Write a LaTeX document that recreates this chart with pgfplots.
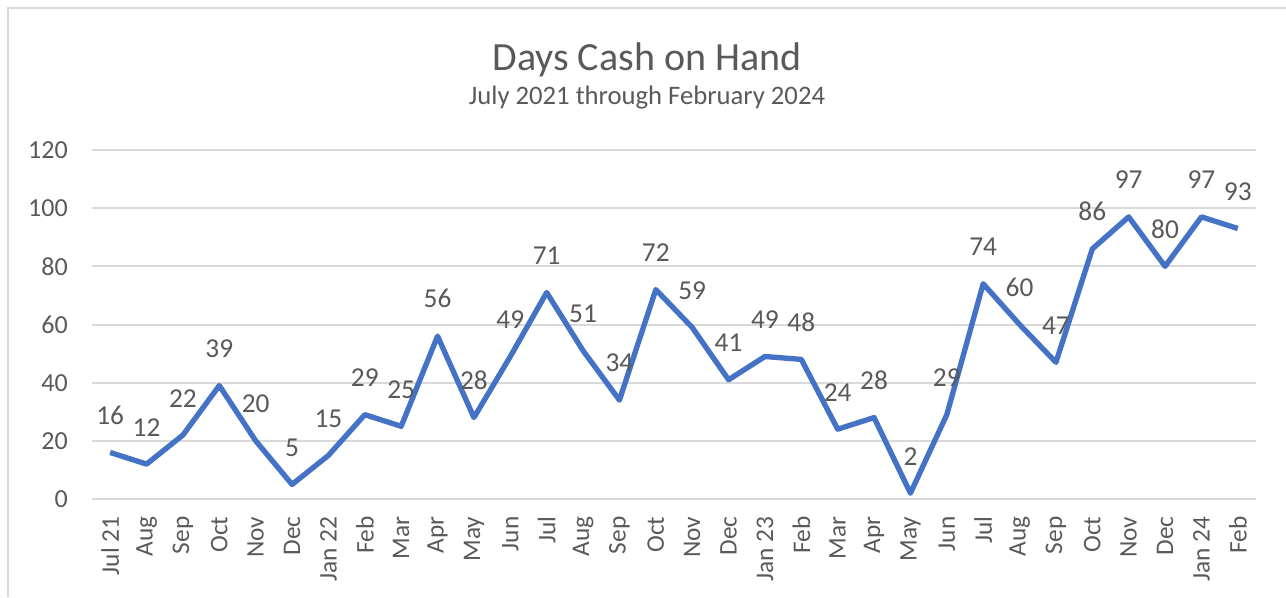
\documentclass[border=0pt]{standalone}
\usepackage{pgfplots}
\pgfplotsset{compat=1.18}
\usepackage{fontspec}
\setmainfont{Carlito}
\definecolor{txt}{HTML}{595959}
\definecolor{gridc}{HTML}{D9D9D9}
\definecolor{linec}{HTML}{4472C4}
\definecolor{framec}{HTML}{D9D9D9}
\begin{document}
\begin{tikzpicture}
\begin{scope}[x=0.75pt,y=0.75pt]
\path[use as bounding box] (0,0) rectangle (1286,597);
\draw[framec, line width=1.5pt] (8,0) -- (8,589) -- (1286,589);
\node[anchor=base, text=txt, font=\fontsize{30}{36}\selectfont] at (647,526) {Days Cash on Hand};
\node[anchor=base, text=txt, font=\fontsize{20}{24}\selectfont] at (647,492) {July 2021 through February 2024};
\end{scope}
\begin{axis}[
  at={(69pt,73.5pt)}, anchor=south west,
  scale only axis,
  width=873pt, height=261.75pt,
  xmin=-0.5, xmax=31.5,
  ymin=0, ymax=120,
  ytick={0,20,...,120},
  xtick={0,...,31},
  xticklabels={Jul 21,Aug,Sep,Oct,Nov,Dec,Jan 22,Feb,Mar,Apr,May,Jun,Jul,Aug,Sep,Oct,Nov,Dec,Jan 23,Feb,Mar,Apr,May,Jun,Jul,Aug,Sep,Oct,Nov,Dec,Jan 24,Feb},
  axis line style={draw=none},
  major tick length=0pt,
  ymajorgrids, xmajorgrids=false,
  grid style={draw=gridc, line width=1.5pt},
  /pgf/number format/assume math mode=true,
  yticklabel shift=18pt,
  xticklabel shift=13pt,
  yticklabel style={text=txt, font=\fontsize{19.5}{23}\selectfont, anchor=east, inner sep=0pt},
  xticklabel style={text=txt, font=\fontsize{19}{23}\selectfont, rotate=90, anchor=east, inner sep=0pt},
  clip=false,
  nodes near coords,
  nodes near coords style={text=txt, font=\fontsize{20.5}{24}\selectfont, anchor=south, inner sep=0pt, yshift=19pt},
]
\addplot[linec, line width=4pt, line join=round, mark=none] coordinates {
(0,16) (1,12) (2,22) (3,39) (4,20) (5,5) (6,15) (7,29) (8,25) (9,56)
(10,28) (11,49) (12,71) (13,51) (14,34) (15,72) (16,59) (17,41) (18,49) (19,48)
(20,24) (21,28) (22,2) (23,29) (24,74) (25,60) (26,47) (27,86) (28,97) (29,80)
(30,97) (31,93)
};
\end{axis}
\end{tikzpicture}
\end{document}
